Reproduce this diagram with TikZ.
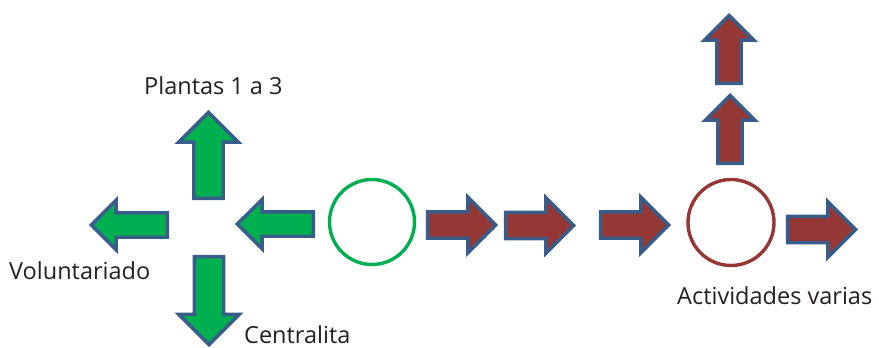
\documentclass[tikz,border=0pt]{standalone}
\usepackage{fontspec}
\setmainfont{Open Sans}
\usetikzlibrary{shapes.arrows}
\definecolor{ArrowGreen}{HTML}{00B050}
\definecolor{ArrowRed}{HTML}{953735}
\definecolor{ArrowRule}{HTML}{385D8A}
\definecolor{LabelInk}{HTML}{231F20}

\begin{document}
\begin{tikzpicture}[x=1pt, y=-1pt,
  blockarrow/.style={single arrow, draw=ArrowRule, line width=3.4pt, anchor=tip,
              inner xsep=0pt, outer sep=0pt, minimum height=#1},
  garrow/.style={blockarrow=76pt, fill=ArrowGreen, inner ysep=10.5pt,
              single arrow head extend=12.5pt},
  rarrow/.style={blockarrow=68pt, fill=ArrowRed, inner ysep=11.5pt,
              single arrow head extend=14.5pt},
  hub/.style={circle, line width=3.4pt, inner sep=0pt, minimum size=85pt},
  lbl/.style={anchor=base west, inner sep=0pt, font=\fontsize{23.5}{27}\selectfont,
              text=LabelInk}]
  \useasboundingbox (0,0) rectangle (879,348);

  % green side
  \node[hub, draw=ArrowGreen] (gc) at (372,222) {};
  \node[garrow, rotate=180] (gin) at (237.4,224) {};
  \node[garrow, rotate=180] (gleft) at (91.4,225) {};
  \node[garrow, rotate=90, blockarrow=86pt, inner ysep=13pt,
        single arrow head extend=15pt] (gup) at (208.5,112.4) {};
  \node[garrow, rotate=-90, blockarrow=88pt, inner ysep=13pt,
        single arrow head extend=15.5pt] (gdown) at (209,344.6) {};

  % red side
  \node[hub, draw=ArrowRed, minimum size=86pt] (rc) at (731,222.5) {};
  \node[rarrow] (r1) at (495.6,225) {};
  \node[rarrow] (r2) at (573.6,225.5) {};
  \node[rarrow] (r3) at (668.6,225) {};
  \node[rarrow] (r4) at (855.6,229.5) {};
  \node[rarrow, rotate=90, inner ysep=10.5pt,
        single arrow head extend=12.5pt] (rup1) at (730,95.4) {};
  \node[rarrow, rotate=90, inner ysep=10.5pt,
        single arrow head extend=12.5pt] (rup2) at (729,15.4) {};

  % labels
  \node[lbl] (plantas) at (144,94) {Plantas 1 a 3};
  \node[lbl] (volunt) at (9,279) {Voluntariado};
  \node[lbl] (central) at (244,343.5) {Centralita};
  \node[lbl] (activ) at (677,304) {Actividades varias};
\end{tikzpicture}
\end{document}
